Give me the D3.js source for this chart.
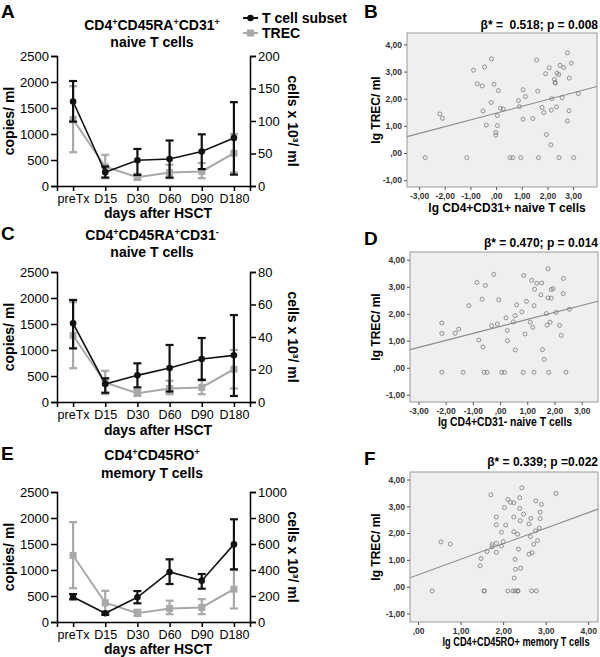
<!DOCTYPE html>
<html><head><meta charset="utf-8">
<script src="https://cdn.jsdelivr.net/npm/d3@7"></script>
<style>body{margin:0;background:#fff} svg{font-family:Arial,"Liberation Sans",sans-serif}</style>
</head><body>
<svg id="c" width="600" height="657"></svg>
<script>
// ---------- DATA ----------
const categories = ["preTx","D15","D30","D60","D90","D180"];
const leftTicks = [0,500,1000,1500,2000,2500];
// TREC copies/ml (left axis), same in all three panels
const trecMean = [1280, 370, 170, 260, 280, 630];
const trecLow  = [650, 150, 120, 150, 150, 260];
const trecHigh = [1920, 600, 235, 410, 440, 1000];
// Panel A: CD4+CD45RA+CD31+ naive T cells (cells x 10^3/ml)
const aMean = [130, 21, 39.5, 41.5, 53, 74];
const aLow  = [99, 13, 17, 13, 26, 17.5];
const aHigh = [161.5, 30, 57, 70, 79.5, 129];
const aRightTicks = [0,50,100,150,200];
// Panel C: CD4+CD45RA+CD31- naive T cells
const cMean = [48.4, 11.1, 16.4, 20.9, 26.5, 28.7];
const cLow  = [33, 5.7, 9.0, 6.4, 13.5, 3.7];
const cHigh = [62.8, 14.6, 23.8, 35.1, 39.4, 53.5];
const cRightTicks = [0,20,40,60,80];
// Panel E: CD4+CD45RO+ memory T cells
const eMean = [192, 67, 190, 385, 318, 597];
const eLow  = [174, 55, 144, 292, 256, 405];
const eHigh = [215, 78, 238, 482, 369, 790];
const eRightTicks = [0,200,400,600,800,1000];

// Scatter B: lg CD4+CD31+ naive T cells vs lg TREC/ml
const bX = [-2.76,-1.14,0.545,0.65,0.96,1.65,2.45,3.02,-2.19,-2.09,-0.88,-0.73,-0.54,-0.45,-0.18,-0.51,-0.38,-0.19,-0.08,0.09,0.05,0.17,0.28,0.05,-0.01,-0.01,0.87,0.91,1.05,1.14,1.05,1.58,1.62,1.43,1.79,1.86,1.93,2.07,1.96,2.13,2.15,2.17,2.27,2.30,2.30,2.35,2.37,2.44,2.49,2.57,2.63,2.78,2.93,2.85,2.84,2.78,3.20];
const bY = [-0.17,-0.17,-0.17,-0.17,-0.17,-0.17,-0.17,-0.17,1.44,1.28,3.05,2.55,2.47,3.17,3.47,1.55,1.03,1.86,2.53,2.30,1.38,1.65,1.62,1.01,0.76,0.66,1.93,1.71,2.33,2.08,1.25,3.43,2.28,1.27,1.68,1.49,2.92,3.14,0.68,0.30,1.58,2.00,2.71,2.60,2.58,1.70,2.94,2.89,3.23,2.04,3.15,3.69,3.31,2.76,1.56,1.18,2.19];
const bXTicks = [-3,-2,-1,0,1,2,3];
const bFit = {intercept:1.47, slope:0.25};

// Scatter D: lg CD4+CD31- naive T cells vs lg TREC/ml
const dX = [-2.14,-1.36,-0.59,-0.48,0.06,0.16,0.85,1.25,1.79,2.42,-2.14,-2.14,-1.65,-1.52,-1.15,-0.85,-0.66,-0.54,-0.78,-0.63,-0.23,-0.31,-0.10,-0.05,0.22,0.27,0.27,0.49,0.55,0.61,0.56,0.80,0.87,0.92,0.97,1.11,1.16,1.20,1.25,1.27,1.35,1.50,1.53,1.56,1.62,1.70,1.73,1.76,1.76,1.84,1.88,1.88,1.95,2.06,2.19,2.25,2.32,2.33,2.55];
const dY = [-0.17,-0.17,-0.17,-0.17,-0.17,-0.17,-0.17,-0.17,-0.17,-0.17,1.66,1.27,1.28,1.43,2.30,3.16,2.54,3.05,1.03,0.77,3.46,1.56,1.62,2.52,1.85,1.38,1.00,1.70,1.93,2.33,0.66,2.07,3.42,1.25,2.46,1.69,3.24,1.50,2.30,2.91,3.13,2.70,3.14,0.67,0.31,2.01,1.58,3.67,2.59,1.69,2.58,2.90,2.93,2.05,1.57,1.20,2.75,3.31,2.17];
const dXTicks = [-3,-2,-1,0,1,2,3];
const dFit = {intercept:1.53, slope:0.26};

// Scatter F: lg CD4+CD45RO+ memory T cells vs lg TREC/ml
const fX = [0.33,1.55,1.56,2.11,2.23,2.28,2.34,2.35,2.67,2.78,0.54,0.76,1.46,1.48,1.62,1.74,1.74,1.71,1.84,1.84,1.84,1.84,1.96,1.96,2.00,2.03,2.06,2.11,2.17,2.25,2.25,2.25,2.26,2.28,2.29,2.34,2.36,2.39,2.39,2.40,2.44,2.41,2.48,2.61,2.64,2.65,2.68,2.61,2.72,2.76,2.77,2.81,2.85,2.87,2.87,2.90,3.24];
const fY = [-0.16,-0.16,-0.16,-0.16,-0.16,-0.16,-0.16,-0.16,-0.16,-0.16,1.67,1.59,0.78,1.05,1.31,1.49,1.57,3.43,2.60,2.31,1.62,1.28,2.03,1.52,1.68,2.95,2.30,3.25,3.15,3.13,2.60,2.05,0.32,1.02,0.65,1.96,1.40,3.32,2.92,2.46,3.69,0.69,2.71,2.34,1.87,2.55,1.27,1.21,1.58,2.08,3.20,1.72,2.19,2.78,2.54,3.07,3.48];
const fXTicks = [0,1,2,3,4];
const fFit = {intercept:0.44, slope:0.58};
const scatterYTicks = [-1,0,1,2,3,4];

// ---------- DRAW ----------
const svg = d3.select("#c");
const BLACK = "#111", GRAY = "#a8a8a8";
const FONT = "Arial, 'Liberation Sans', sans-serif";

function linePanel(g) {
  const x = d3.scalePoint().domain(categories).range([57,250]).padding(0.5);
  const yL = d3.scaleLinear().domain([0,2500]).range([g.bottom, g.top]);
  const yR = d3.scaleLinear().domain([0,g.rightMax]).range([g.bottom, g.top]);
  const root = svg.append("g");

  const ax = root.append("g").attr("transform",`translate(0,${g.bottom})`)
    .call(d3.axisBottom(x).tickSizeOuter(0).tickSize(5).tickPadding(3));
  const al = root.append("g").attr("transform",`translate(57,0)`)
    .call(d3.axisLeft(yL).tickValues(leftTicks).tickFormat(d3.format("d")).tickSizeOuter(0).tickSize(6).tickPadding(2));
  const ar = root.append("g").attr("transform",`translate(250,0)`)
    .call(d3.axisRight(yR).tickValues(g.rightTicks).tickFormat(d3.format("d")).tickSizeOuter(0).tickSize(6).tickPadding(2));
  [ax,al,ar].forEach(a=>{
    a.selectAll("path,line").attr("stroke","#000").attr("stroke-width",1.5);
    a.selectAll("text").attr("fill","#000").attr("font-size",13).attr("font-family",FONT);
  });
  ax.selectAll("text").attr("font-size",12.5);

  function series(vals, lo, hi, yS, color, shape, lw) {
    const s = root.append("g");
    s.selectAll("line.eb").data(categories).join("line")
      .attr("x1",d=>x(d)).attr("x2",d=>x(d))
      .attr("y1",(d,i)=>yS(lo[i])).attr("y2",(d,i)=>yS(hi[i]))
      .attr("stroke",color).attr("stroke-width",2.2);
    [lo,hi].forEach(arr=>{
      s.append("g").selectAll("line").data(categories).join("line")
        .attr("x1",d=>x(d)-4).attr("x2",d=>x(d)+4)
        .attr("y1",(d,i)=>yS(arr[i])).attr("y2",(d,i)=>yS(arr[i]))
        .attr("stroke",color).attr("stroke-width",2.2);
    });
    s.append("path").datum(vals)
      .attr("d", d3.line().x((d,i)=>x(categories[i])).y(d=>yS(d)))
      .attr("fill","none").attr("stroke",color).attr("stroke-width",lw);
    if (shape==="circle") {
      s.append("g").selectAll("circle").data(vals).join("circle")
        .attr("cx",(d,i)=>x(categories[i])).attr("cy",d=>yS(d)).attr("r",3.3).attr("fill",color);
    } else {
      s.append("g").selectAll("rect").data(vals).join("rect")
        .attr("x",(d,i)=>x(categories[i])-3.5).attr("y",d=>yS(d)-3.5)
        .attr("width",7).attr("height",7).attr("fill",color);
    }
  }
  series(trecMean, trecLow, trecHigh, yL, GRAY, "square", 2);
  series(g.mean, g.low, g.high, yR, BLACK, "circle", 1.6);

  const t = root.append("text").attr("x",152).attr("y",g.t1).attr("text-anchor","middle")
    .attr("font-size",14).attr("font-weight","bold");
  let shifted = false;
  g.title1.forEach(p=>{
    if (p.sup) { t.append("tspan").attr("dy",-5).attr("font-size",9).text(p.sup); shifted = true; }
    else { t.append("tspan").attr("dy",shifted?5:0).text(p.txt); shifted = false; }
  });
  root.append("text").attr("x",152).attr("y",g.t2).attr("text-anchor","middle")
    .attr("font-size",14).attr("font-weight","bold").text(g.title2);
  root.append("text").attr("x",1).attr("y",g.letterY).attr("font-size",19).attr("font-weight","bold").text(g.letter);

  const mid = (g.top+g.bottom)/2;
  root.append("text").attr("transform",`translate(14,${mid}) rotate(-90)`).attr("text-anchor","middle")
    .attr("font-size",14).attr("font-weight","bold").text("copies/ ml");
  root.append("text").attr("transform",`translate(288,${mid}) rotate(90)`).attr("text-anchor","middle")
    .attr("font-size",14).attr("font-weight","bold").text("cells x 10³/ ml");
  root.append("text").attr("x",158).attr("y",g.xlabY).attr("text-anchor","middle")
    .attr("font-size",14).attr("font-weight","bold").text("days after HSCT");
}

linePanel({top:56,bottom:186,rightMax:200,rightTicks:aRightTicks,mean:aMean,low:aLow,high:aHigh,
  title1:[{txt:"CD4"},{sup:"+"},{txt:"CD45RA"},{sup:"+"},{txt:"CD31"},{sup:"+"}],title2:"naive T cells",
  t1:30,t2:47,letter:"A",letterY:18,xlabY:218});
linePanel({top:272,bottom:402,rightMax:80,rightTicks:cRightTicks,mean:cMean,low:cLow,high:cHigh,
  title1:[{txt:"CD4"},{sup:"+"},{txt:"CD45RA"},{sup:"+"},{txt:"CD31"},{sup:"-"}],title2:"naive T cells",
  t1:240,t2:257,letter:"C",letterY:240,xlabY:435});
linePanel({top:492,bottom:622,rightMax:1000,rightTicks:eRightTicks,mean:eMean,low:eLow,high:eHigh,
  title1:[{txt:"CD4"},{sup:"+"},{txt:"CD45RO"},{sup:"+"}],title2:"memory T cells",
  t1:460,t2:478,letter:"E",letterY:460,xlabY:654});

// legend (panel A)
const lg = svg.append("g");
[{y:18,c:BLACK,s:"circle",t:"T cell subset"},{y:33,c:GRAY,s:"square",t:"TREC"}].forEach(d=>{
  lg.append("line").attr("x1",243).attr("x2",258).attr("y1",d.y).attr("y2",d.y).attr("stroke",d.c).attr("stroke-width",2);
  if (d.s==="circle") lg.append("circle").attr("cx",250.5).attr("cy",d.y).attr("r",3.3).attr("fill",d.c);
  else lg.append("rect").attr("x",247).attr("y",d.y-3.5).attr("width",7).attr("height",7).attr("fill",d.c);
  lg.append("text").attr("x",262).attr("y",d.y+5).attr("font-size",14).attr("font-weight","bold").text(d.t);
});

// scatter panels
function fmt(v){ return (v<0?"-":"") + (v===0 ? ",00" : Math.abs(v).toFixed(2).replace(".",",")); }
function scatterPanel(g) {
  const x = d3.scaleLinear().domain(g.xDom).range([g.x0,g.x1]);
  const y = d3.scaleLinear().domain(g.yDom).range([g.y1,g.y0]);
  const root = svg.append("g");
  root.append("rect").attr("x",g.x0).attr("y",g.y0).attr("width",g.x1-g.x0).attr("height",g.y1-g.y0)
    .attr("fill","#efefef").attr("stroke","#9a9a9a").attr("stroke-width",1);
  const ax = root.append("g").attr("transform",`translate(0,${g.y1})`)
    .call(d3.axisBottom(x).tickValues(g.xTicks).tickFormat(fmt).tickSize(3).tickPadding(3).tickSizeOuter(0));
  const ay = root.append("g").attr("transform",`translate(${g.x0},0)`)
    .call(d3.axisLeft(y).tickValues(scatterYTicks).tickFormat(fmt).tickSize(3).tickPadding(2).tickSizeOuter(0));
  [ax,ay].forEach(a=>{
    a.select(".domain").remove();
    a.selectAll("line").attr("stroke","#555");
    a.selectAll("text").attr("fill","#333").attr("font-size",8.5).attr("font-weight","bold").attr("font-family",FONT);
  });
  const clipId = "clip"+g.letter;
  root.append("clipPath").attr("id",clipId).append("rect")
    .attr("x",g.x0).attr("y",g.y0).attr("width",g.x1-g.x0).attr("height",g.y1-g.y0);
  root.append("line").attr("clip-path",`url(#${clipId})`)
    .attr("x1",x(g.xDom[0])).attr("y1",y(g.fit.intercept+g.fit.slope*g.xDom[0]))
    .attr("x2",x(g.xDom[1])).attr("y2",y(g.fit.intercept+g.fit.slope*g.xDom[1]))
    .attr("stroke","#8a8a8a").attr("stroke-width",1.1);
  root.append("g").selectAll("circle").data(g.xs).join("circle")
    .attr("cx",d=>x(d)).attr("cy",(d,i)=>y(g.ys[i])).attr("r",2)
    .attr("fill","none").attr("stroke","#7a7a7a").attr("stroke-width",0.8);
  root.append("text").attr("x",598).attr("y",g.statY).attr("text-anchor","end")
    .attr("font-size",12).attr("font-weight","bold").style("white-space","pre").text(g.stat);
  root.append("text").attr("x",364).attr("y",g.letterY).attr("font-size",19).attr("font-weight","bold").text(g.letter);
  root.append("text").attr("transform",`translate(380,${(g.y0+g.y1)/2}) rotate(-90)`).attr("text-anchor","middle")
    .attr("font-size",12).attr("font-weight","bold").text("lg TREC/ ml");
  root.append("text").attr("transform",`translate(${g.xlabX},${g.xlabY}) scale(${g.xlabScale},1)`)
    .attr("text-anchor","middle").attr("font-size",12).attr("font-weight","bold").text(g.xlab);
}
scatterPanel({x0:407,x1:597,y0:33,y1:187,xDom:[-3.47,3.93],yDom:[-1.25,4.42],xTicks:bXTicks,
  xs:bX,ys:bY,fit:bFit,stat:"β* =  0.518; p = 0.008",statY:29,letter:"B",letterY:18,
  xlab:"lg CD4+CD31+ naive T cells",xlabX:507,xlabY:212,xlabScale:1});
scatterPanel({x0:410,x1:598,y0:252,y1:402,xDom:[-3.31,3.60],yDom:[-1.27,4.29],xTicks:dXTicks,
  xs:dX,ys:dY,fit:dFit,stat:"β* = 0.470; p = 0.014",statY:247,letter:"D",letterY:245,
  xlab:"lg CD4+CD31- naive T cells",xlabX:505,xlabY:426,xlabScale:0.87});
scatterPanel({x0:410,x1:598,y0:472,y1:622,xDom:[-0.19,4.23],yDom:[-1.32,4.28],xTicks:fXTicks,
  xs:fX,ys:fY,fit:fFit,stat:"β* = 0.339; p =0.022",statY:466,letter:"F",letterY:465,
  xlab:"lg CD4+CD45RO+ memory T cells",xlabX:516,xlabY:646,xlabScale:0.77});
</script>
</body></html>
